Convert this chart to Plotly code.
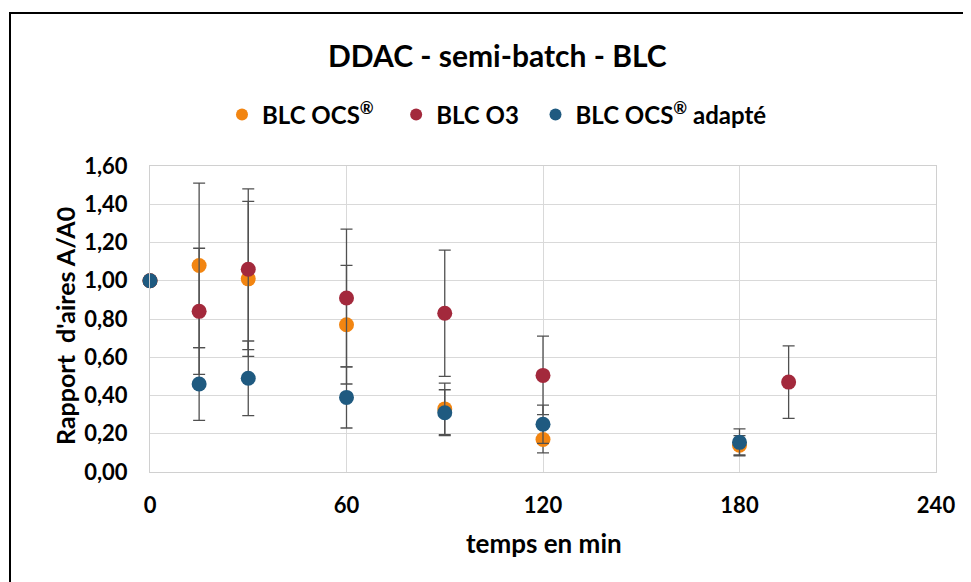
import plotly.graph_objects as go

title = "DDAC - semi-batch - BLC"
x_title = "temps en min"
y_title = "Rapport  d'aires A/A0"

names = ["BLC OCS<sup>®</sup>\u00a0\u00a0\u00a0", "BLC O3\u00a0\u00a0", "BLC OCS<sup>®</sup> adapté"]
colors = ["#F28511", "#A3293C", "#1F5A80"]

x_ocs = [0, 15, 30, 60, 90, 120, 180]
y_ocs = [1.00, 1.08, 1.01, 0.77, 0.33, 0.17, 0.14]
e_ocs = [0, 0.43, 0.405, 0.31, 0.135, 0.07, 0.05]

x_o3 = [0, 15, 30, 60, 90, 120, 195]
y_o3 = [1.00, 0.84, 1.06, 0.91, 0.83, 0.505, 0.47]
e_o3 = [0, 0.33, 0.42, 0.36, 0.33, 0.205, 0.19]

x_ad = [0, 15, 30, 60, 90, 120, 180]
y_ad = [1.00, 0.46, 0.49, 0.39, 0.31, 0.25, 0.155]
e_ad = [0, 0.19, 0.195, 0.16, 0.12, 0.10, 0.07]

x_ticks = [0, 60, 120, 180, 240]
y_ticks = [0, 0.2, 0.4, 0.6, 0.8, 1.0, 1.2, 1.4, 1.6]

FONT = "Lato"
OFF = 8  # page body margin
W, H = 971, 582
L, T = 150 - OFF, 166 - OFF
R, B = W - (936 - OFF), H - (472 - OFF)
PW, PH = W - L - R, H - T - B


def px_x(px):
    return (px - OFF - L) / PW


def px_y(py):
    return (H - B - (py - OFF)) / PH


fig = go.Figure()
for xs, ys, es, nm, col in [(x_ocs, y_ocs, e_ocs, names[0], colors[0]),
                            (x_o3, y_o3, e_o3, names[1], colors[1]),
                            (x_ad, y_ad, e_ad, names[2], colors[2])]:
    fig.add_trace(go.Scatter(
        x=xs, y=ys, mode="markers", name=nm,
        marker=dict(color=col, size=15, line=dict(width=0)),
        error_y=dict(type="data", array=es, visible=True, color="#505050",
                     thickness=1.3, width=6),
        cliponaxis=False,
    ))

fig.update_layout(
    width=W, height=H,
    margin=dict(l=L, r=R, t=T, b=B),
    paper_bgcolor="white", plot_bgcolor="white",
    separators=", ",
    font=dict(family=FONT, color="#000000"),
    showlegend=True,
    legend=dict(orientation="h", x=(497 - OFF) / W, xref="container", xanchor="center",
                y=1 - (115 - OFF) / H, yref="container", yanchor="middle",
                font=dict(size=24, family=FONT, color="#000", weight="bold"),
                itemsizing="constant", itemwidth=30, bgcolor="rgba(0,0,0,0)"),
    xaxis=dict(range=[0, 240], tickvals=x_ticks, showgrid=True, gridcolor="#D9D9D9",
               gridwidth=1, showline=True, linecolor="#D0D0D0", linewidth=1, mirror=True,
               zeroline=False, ticks="", ticklabelstandoff=14,
               tickfont=dict(size=22, family=FONT, color="#000", weight="bold")),
    yaxis=dict(range=[0, 1.6], tickvals=y_ticks, tickformat=".2f", showgrid=True,
               gridcolor="#D9D9D9", gridwidth=1, showline=True, linecolor="#D0D0D0",
               linewidth=1, mirror=True, zeroline=False, ticks="", ticklabelstandoff=17,
               tickfont=dict(size=22, family=FONT, color="#000", weight="bold")),
    annotations=[
        dict(text="<b>" + title + "</b>", xref="paper", yref="paper",
             x=px_x(497), y=px_y(55), xanchor="center", yanchor="middle",
             showarrow=False, font=dict(size=30, family=FONT, color="#000")),
        dict(text="<b>" + x_title + "</b>", xref="paper", yref="paper",
             x=px_x(544), y=px_y(543), xanchor="center", yanchor="middle",
             showarrow=False, font=dict(size=26, family=FONT, color="#000")),
        dict(text="<b>" + y_title + "</b>", xref="paper", yref="paper",
             x=px_x(65), y=px_y(326), xanchor="center", yanchor="middle", textangle=-90,
             showarrow=False, font=dict(size=25, family=FONT, color="#000")),
    ],
    shapes=[dict(type="rect", xref="paper", yref="paper",
                 x0=px_x(10), x1=px_x(990), y0=px_y(600), y1=px_y(13),
                 line=dict(color="#000", width=2), fillcolor="rgba(0,0,0,0)", layer="below")],
)

fig.write_html("out.html")
